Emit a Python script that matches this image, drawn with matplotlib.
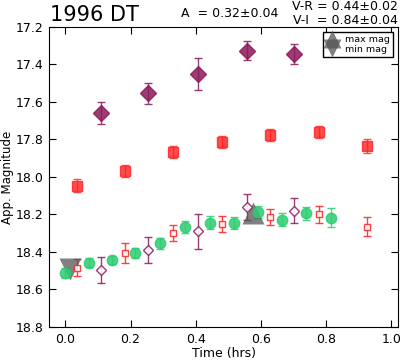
import matplotlib
matplotlib.use("Agg")
import matplotlib.pyplot as plt

# --- DATA ---
# green circles
t_green = [0.0, 0.072, 0.143, 0.215, 0.29, 0.366, 0.443, 0.517, 0.591, 0.664, 0.739, 0.815]
m_green = [18.51, 18.457, 18.443, 18.407, 18.354, 18.265, 18.244, 18.244, 18.187, 18.229, 18.194, 18.217]
e_green = [0.027, 0.024, 0.023, 0.027, 0.028, 0.032, 0.034, 0.033, 0.03, 0.035, 0.034, 0.05]

# red squares (filled = raw, open = shifted)
t_red = [0.037, 0.182, 0.329, 0.48, 0.628, 0.778, 0.926]
m_red = [18.046, 17.968, 17.868, 17.813, 17.776, 17.76, 17.835]
e_red = [0.035, 0.033, 0.033, 0.033, 0.034, 0.033, 0.035]
m_red_open = [18.485, 18.405, 18.30, 18.25, 18.215, 18.20, 18.265]
e_red_open = [0.045, 0.053, 0.043, 0.041, 0.043, 0.043, 0.05]

# purple diamonds (filled = raw, open = shifted)
t_pur = [0.108, 0.252, 0.406, 0.557, 0.70]
m_pur = [17.66, 17.554, 17.452, 17.326, 17.344]
e_pur = [0.06, 0.056, 0.085, 0.05, 0.055]
m_pur_open = [18.497, 18.39, 18.29, 18.16, 18.18]
e_pur_open = [0.07, 0.07, 0.094, 0.068, 0.068]

# extrema
t_max, m_max = 0.575, 18.19
t_min, m_min = 0.015, 18.49

GREEN = "#2ecc71"
RED = "#ff2020"
PURPLE = "#8b1a5a"

fig = plt.figure(figsize=(4, 3.6), dpi=100)
ax = fig.add_axes([0.1225, 0.0917, 0.8725, 0.8333])

ax.errorbar(t_green, m_green, yerr=e_green, fmt="o", ms=7.5, color=GREEN, mec=GREEN,
            ecolor=GREEN, alpha=0.85, capsize=3, elinewidth=1)
ax.errorbar(t_red, m_red, yerr=e_red, fmt="s", ms=6.5, color=RED, mec=RED,
            ecolor=RED, alpha=0.8, capsize=3, elinewidth=1)
ax.errorbar(t_red, m_red_open, yerr=e_red_open, fmt="s", ms=5, mfc="white", mec=RED,
            ecolor=RED, alpha=0.85, capsize=3, elinewidth=1)
ax.errorbar(t_pur, m_pur, yerr=e_pur, fmt="D", ms=8, color=PURPLE, mec=PURPLE,
            ecolor=PURPLE, alpha=0.85, capsize=3, elinewidth=1)
ax.errorbar(t_pur, m_pur_open, yerr=e_pur_open, fmt="D", ms=5, mfc="white", mec=PURPLE,
            ecolor=PURPLE, alpha=0.85, capsize=3, elinewidth=1)

ax.plot([t_max], [m_max], "^", ms=16, color="#555555", alpha=0.75, mec="none", label="max mag")
ax.plot([t_min], [m_min], "v", ms=16, color="#555555", alpha=0.75, mec="none", label="min mag")

ax.set_xlim(-0.05, 1.02)
ax.set_ylim(18.8, 17.2)
ax.set_xticks([0.0, 0.2, 0.4, 0.6, 0.8, 1.0])
ax.set_yticks([17.2, 17.4, 17.6, 17.8, 18.0, 18.2, 18.4, 18.6, 18.8])
ax.tick_params(direction="in", top=True, right=True, labelsize=9, length=5, pad=4)
ax.set_xlabel("Time (hrs)", fontsize=9, labelpad=1)
ax.set_ylabel("App. Magnitude", fontsize=8.5, labelpad=1)

leg = ax.legend(loc="upper right", fontsize=6.8, numpoints=1, markerscale=0.8,
                labelspacing=0.05, handlelength=1.2, borderpad=0.35, handletextpad=0.8,
                fancybox=False, framealpha=1)
leg.get_frame().set_edgecolor("black")

fig.text(0.125, 0.93, "1996 DT", fontsize=15, ha="left", va="bottom")
fig.text(0.575, 0.945, "A  = 0.32\u00b10.04", fontsize=9, ha="center", va="bottom")
fig.text(0.995, 0.965, "V-R = 0.44\u00b10.02", fontsize=9, ha="right", va="bottom")
fig.text(0.995, 0.925, "V-I  = 0.84\u00b10.04", fontsize=9, ha="right", va="bottom")

fig.savefig("out.png", dpi=100, facecolor="white")
